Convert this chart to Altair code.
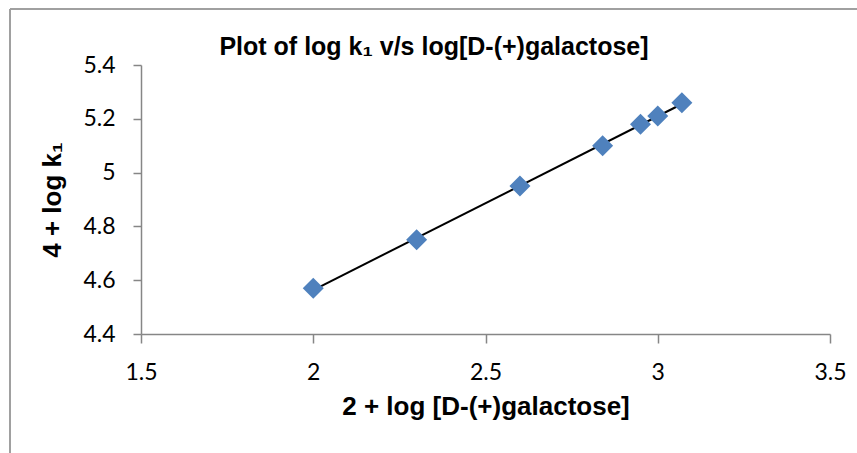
import altair as alt
import pandas as pd

x_vals = [2.0, 2.3, 2.6, 2.84, 2.95, 3.0, 3.07]
y_vals = [4.57, 4.75, 4.95, 5.10, 5.18, 5.21, 5.26]
x_ticks = [1.5, 2, 2.5, 3, 3.5]
y_ticks = [4.4, 4.6, 4.8, 5.0, 5.2, 5.4]
chart_title = "Plot of log k₁ v/s log[D-(+)galactose]"

df = pd.DataFrame({"x": x_vals, "y": y_vals})
title_df = pd.DataFrame({"t": [chart_title]})

TITLE_FONT = "Liberation Sans, Arial"
LABEL_FONT = "Lato, Open Sans, sans-serif"
AXIS_COLOR = "#868686"

x_enc = alt.X(
    "x:Q",
    scale=alt.Scale(domain=[1.5, 3.5], nice=False, zero=False),
    axis=alt.Axis(
        values=x_ticks, title="2 + log [D-(+)galactose]", grid=False, format="~g",
        domainColor=AXIS_COLOR, tickColor=AXIS_COLOR, tickSize=9, domainWidth=1.5, tickWidth=1.5,
        labelFont=LABEL_FONT, labelFontSize=23, labelColor="black", labelPadding=18,
        titleFont=TITLE_FONT, titleFontSize=26, titleFontWeight="bold", titleColor="black",
        titlePadding=9, labelFlush=False,
    ),
)
y_enc = alt.Y(
    "y:Q",
    scale=alt.Scale(domain=[4.4, 5.4], nice=False, zero=False),
    axis=alt.Axis(
        values=y_ticks, title="4 + log k₁", grid=False, format="~g",
        domainColor=AXIS_COLOR, tickColor=AXIS_COLOR, tickSize=8, domainWidth=1.5, tickWidth=1.5,
        labelFont=LABEL_FONT, labelFontSize=23, labelColor="black", labelPadding=18,
        titleFont=TITLE_FONT, titleFontSize=26, titleFontWeight="bold", titleColor="black",
        titlePadding=17, labelFlush=False,
    ),
)

points = alt.Chart(df).mark_point(
    shape="diamond", filled=True, color="#4F81BD", size=441, opacity=1
).encode(x=x_enc, y=y_enc)

trend = alt.Chart(df).transform_regression("x", "y").mark_line(
    color="black", strokeWidth=2
).encode(x="x:Q", y="y:Q")

title_mark = alt.Chart(title_df).mark_text(
    font=TITLE_FONT, fontSize=25, fontWeight="bold", color="black",
    align="center", baseline="alphabetic", clip=False,
).encode(x=alt.value(293), y=alt.value(-10), text="t:N")

border_v = alt.Chart(df).mark_rule(color="#a0a0a0", strokeWidth=2, clip=False).encode(
    x=alt.value(-131), y=alt.value(-56), y2=alt.value(400)
)
border_h = alt.Chart(df).mark_rule(color="#a0a0a0", strokeWidth=2, clip=False).encode(
    y=alt.value(-56), x=alt.value(-131), x2=alt.value(730)
)

chart = alt.layer(trend, points, title_mark, border_v, border_h).properties(
    width=689, height=269,
    padding={"left": 141, "top": 65, "right": 27, "bottom": 119},
    autosize=alt.AutoSizeParams(type="none"),
).configure_view(stroke=None)

chart.save("out.html", embed_options={"renderer": "svg", "actions": False})
